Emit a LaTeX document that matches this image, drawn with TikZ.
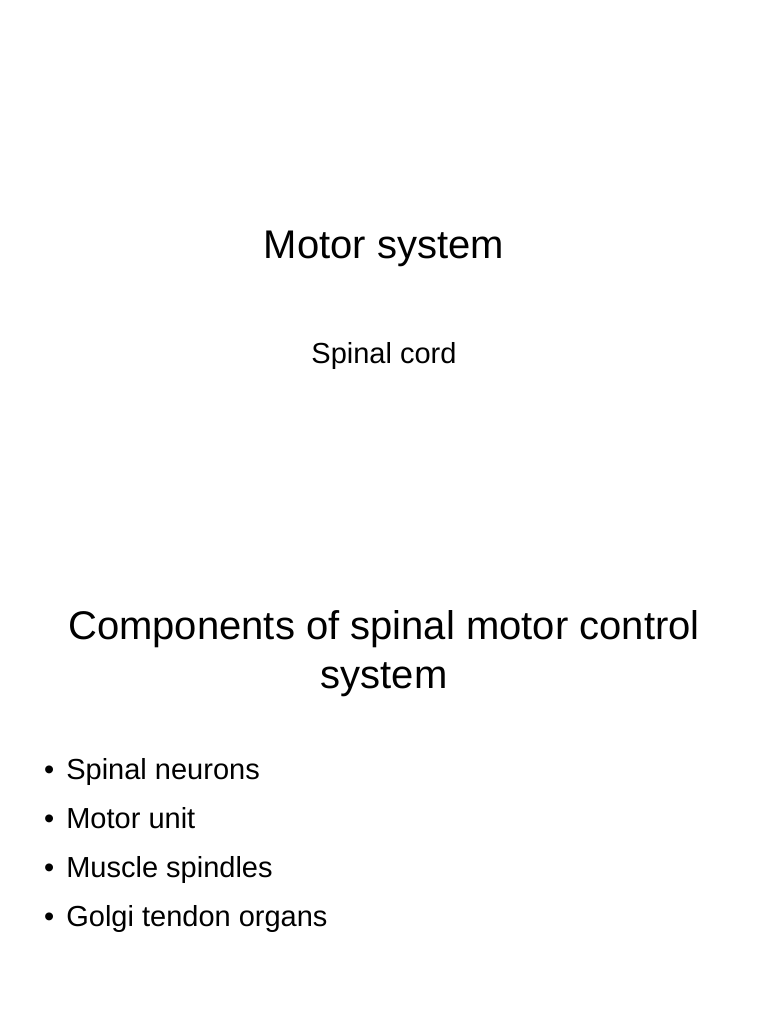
\documentclass[tikz,border=0pt]{standalone}
\usepackage{fontspec}
\setmainfont{Liberation Sans}
\begin{document}
\begin{tikzpicture}[x=1pt,y=1pt,
  big/.style={anchor=base,inner sep=0pt,font=\fontsize{40}{48}\selectfont},
  mid/.style={anchor=base,inner sep=0pt,font=\fontsize{29}{35}\selectfont},
  item/.style={anchor=base west,inner sep=0pt,font=\fontsize{29}{35}\selectfont}]
\useasboundingbox[fill=white] (0,0) rectangle (768,1024);
\node[big] (t1) at (384,1024-259) {Motor system};
\node[mid] (s1) at (384,1024-364) {Spinal cord};
\node[big] (t2a) at (384,1024-640) {Components of spinal motor control};
\node[big] (t2b) at (384,1024-689) {system};
\node[item] (b1) at (44,1024-780) {•\hspace{12pt}Spinal neurons};
\node[item] (b2) at (44,1024-829) {•\hspace{12pt}Motor unit};
\node[item] (b3) at (44,1024-878) {•\hspace{12pt}Muscle spindles};
\node[item] (b4) at (44,1024-927) {•\hspace{12pt}Golgi tendon organs};
\end{tikzpicture}
\end{document}
